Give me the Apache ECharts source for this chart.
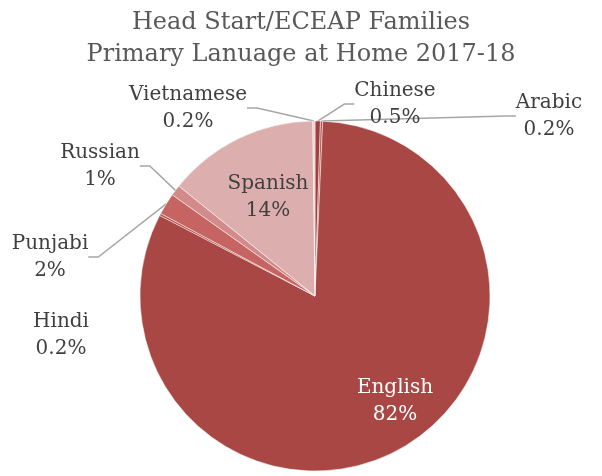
<!DOCTYPE html>
<html>
<head>
<meta charset="utf-8">
<script src="https://cdn.jsdelivr.net/npm/echarts@6/dist/echarts.min.js"></script>
<style>
  html, body { margin: 0; padding: 0; background: #fff; }
  #chartmain { width: 602px; height: 476px; }
</style>
</head>
<body>
<div id="chartmain"></div>
<script>
// data, clockwise from 12 o'clock
var languages = ['Chinese', 'Arabic', 'English', 'Hindi', 'Punjabi', 'Russian', 'Spanish', 'Vietnamese'];
var shares = [0.5, 0.2, 82, 0.2, 2, 1, 14, 0.2];
var sliceColors = ['#a0403d', '#b5504d', '#a84744', '#b24e4b', '#c56461', '#d28b8a', '#dcaeae', '#e9cbcb'];

// where each label sits (text centre)
var labelPos = {
    Chinese: [395, 104],
    Arabic: [549, 116],
    English: [395, 401],
    Hindi: [61, 335],
    Punjabi: [50, 257],
    Russian: [100, 166],
    Spanish: [268, 197],
    Vietnamese: [188, 108]
};

var pieData = [];
for (var i = 0; i < languages.length; i++) {
    var inside = languages[i] === 'English' || languages[i] === 'Spanish';
    pieData.push({
        name: languages[i],
        value: shares[i],
        itemStyle: { color: sliceColors[i] },
        label: {
            position: inside ? 'inside' : 'outside',
            color: languages[i] === 'English' ? '#ffffff' : '#404040'
        },
        labelLine: { show: !inside && languages[i] !== 'Hindi' }
    });
}

var option = {
    title: {
        text: 'Head Start/ECEAP Families\nPrimary Lanuage at Home 2017-18',
        left: 'center',
        top: 2,
        textStyle: {
            fontFamily: 'DejaVu Serif',
            fontWeight: 'normal',
            fontSize: 24,
            lineHeight: 32,
            color: '#595959'
        }
    },
    animation: false,
    series: [{
        type: 'pie',
        center: [315, 296],
        radius: 175,
        startAngle: 90,
        clockwise: true,
        avoidLabelOverlap: false,
        itemStyle: { borderColor: '#ffffff', borderWidth: 0.5 },
        label: {
            formatter: function (p) { return p.name + '\n' + p.value + '%'; },
            fontFamily: 'DejaVu Serif',
            fontSize: 20,
            lineHeight: 27,
            align: 'center'
        },
        labelLine: {
            length: 10,
            length2: 10,
            lineStyle: { color: '#a6a6a6', width: 1.5 }
        },
        labelLayout: function (params) {
            var pos = labelPos[languages[params.dataIndex]];
            return { x: pos[0], y: pos[1], align: 'center', verticalAlign: 'middle' };
        },
        data: pieData
    }]
};

var myChart = echarts.init(document.getElementById('chartmain'));
myChart.setOption(option);
</script>
</body>
</html>
